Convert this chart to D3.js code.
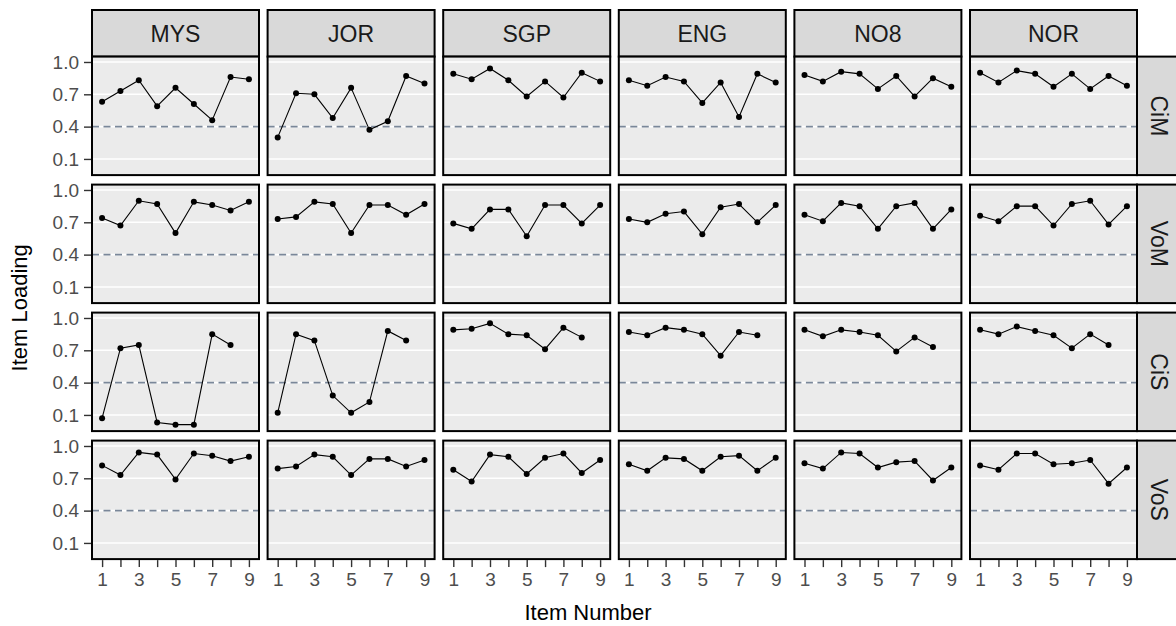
<!DOCTYPE html>
<html>
<head>
<meta charset="utf-8">
<script src="https://cdn.jsdelivr.net/npm/d3@7"></script>
<style>
  html, body { margin: 0; padding: 0; background: #ffffff; }
  svg { display: block; font-family: "Liberation Sans", Arial, Helvetica, sans-serif; }
</style>
</head>
<body>
<svg id="chart" width="1176" height="626"></svg>
<script>
// Facet columns (countries) and facet rows (constructs)
const countries = ["MYS", "JOR", "SGP", "ENG", "NO8", "NOR"];
const constructs = ["CiM", "VoM", "CiS", "VoS"];

// Axis ticks
const xTicks = [1, 2, 3, 4, 5, 6, 7, 8, 9];
const xTickLabels = ["1", "", "3", "", "5", "", "7", "", "9"];
const yTicks = [0.1, 0.4, 0.7, 1.0];
const yTickLabels = ["0.1", "0.4", "0.7", "1.0"];
const cutoff = 0.4;

// Item loadings, one array per country (same order as `countries`)
const loadingsCiM = [
  [0.63, 0.73, 0.83, 0.59, 0.76, 0.61, 0.46, 0.86, 0.84],
  [0.30, 0.71, 0.70, 0.48, 0.76, 0.37, 0.45, 0.87, 0.80],
  [0.89, 0.84, 0.94, 0.83, 0.68, 0.82, 0.67, 0.90, 0.82],
  [0.83, 0.78, 0.86, 0.82, 0.62, 0.81, 0.49, 0.89, 0.81],
  [0.88, 0.82, 0.91, 0.89, 0.75, 0.87, 0.68, 0.85, 0.77],
  [0.90, 0.81, 0.92, 0.89, 0.77, 0.89, 0.75, 0.87, 0.78]
];
const loadingsVoM = [
  [0.74, 0.67, 0.90, 0.87, 0.60, 0.89, 0.86, 0.81, 0.89],
  [0.73, 0.75, 0.89, 0.87, 0.60, 0.86, 0.86, 0.77, 0.87],
  [0.69, 0.64, 0.82, 0.82, 0.57, 0.86, 0.86, 0.69, 0.86],
  [0.73, 0.70, 0.78, 0.80, 0.59, 0.84, 0.87, 0.70, 0.86],
  [0.77, 0.71, 0.88, 0.85, 0.64, 0.85, 0.88, 0.64, 0.82],
  [0.76, 0.71, 0.85, 0.85, 0.67, 0.87, 0.90, 0.68, 0.85]
];
const loadingsCiS = [
  [0.07, 0.72, 0.75, 0.03, 0.01, 0.01, 0.85, 0.75],
  [0.12, 0.85, 0.79, 0.28, 0.12, 0.22, 0.88, 0.79],
  [0.89, 0.90, 0.95, 0.85, 0.84, 0.71, 0.91, 0.82],
  [0.87, 0.84, 0.91, 0.89, 0.85, 0.65, 0.87, 0.84],
  [0.89, 0.83, 0.89, 0.87, 0.84, 0.69, 0.82, 0.73],
  [0.89, 0.85, 0.92, 0.88, 0.84, 0.72, 0.85, 0.75]
];
const loadingsVoS = [
  [0.82, 0.73, 0.94, 0.92, 0.69, 0.93, 0.91, 0.86, 0.90],
  [0.79, 0.81, 0.92, 0.90, 0.73, 0.88, 0.88, 0.81, 0.87],
  [0.78, 0.67, 0.92, 0.90, 0.74, 0.89, 0.93, 0.75, 0.87],
  [0.83, 0.77, 0.89, 0.88, 0.77, 0.90, 0.91, 0.77, 0.89],
  [0.84, 0.79, 0.94, 0.93, 0.80, 0.85, 0.86, 0.68, 0.80],
  [0.82, 0.78, 0.93, 0.93, 0.83, 0.84, 0.87, 0.65, 0.80]
];
const loadingsByConstruct = [loadingsCiM, loadingsVoM, loadingsCiS, loadingsVoS];

// Layout
const panelLeft = 92, panelW = 167, stepX = 175.6;
const panelTop = 56.6, panelH = 118.5, stepY = 128;
const stripTop = 10;
const stripW = 44;

const svg = d3.select("#chart");

const x = d3.scaleLinear().domain([0.45, 9.55]).range([0, panelW]);
const y = d3.scaleLinear().domain([-0.05, 1.05]).range([panelH, 0]);

const line = d3.line().x((d, i) => x(i + 1)).y(d => y(d));

// Column strips
countries.forEach((c, ci) => {
  const gx = panelLeft + ci * stepX;
  const g = svg.append("g").attr("transform", `translate(${gx},${stripTop})`);
  g.append("rect")
    .attr("width", panelW).attr("height", panelTop - stripTop)
    .attr("fill", "#d9d9d9").attr("stroke", "#000").attr("stroke-width", 2);
  g.append("text")
    .attr("x", panelW / 2).attr("y", (panelTop - stripTop) / 2)
    .attr("dy", "0.36em").attr("text-anchor", "middle")
    .attr("font-size", 23).attr("fill", "#1a1a1a").text(c);
});

// Row strips
const rightEdge = panelLeft + (countries.length - 1) * stepX + panelW;
constructs.forEach((k, ri) => {
  const gy = panelTop + ri * stepY;
  const g = svg.append("g").attr("transform", `translate(${rightEdge},${gy})`);
  g.append("rect")
    .attr("width", stripW).attr("height", panelH)
    .attr("fill", "#d9d9d9").attr("stroke", "#000").attr("stroke-width", 2);
  g.append("text")
    .attr("transform", `translate(${stripW / 2},${panelH / 2}) rotate(90)`)
    .attr("dy", "0.36em").attr("text-anchor", "middle")
    .attr("font-size", 23).attr("fill", "#1a1a1a").text(k);
});

// Panels
constructs.forEach((k, ri) => {
  countries.forEach((c, ci) => {
    const gx = panelLeft + ci * stepX;
    const gy = panelTop + ri * stepY;
    const g = svg.append("g").attr("transform", `translate(${gx},${gy})`);

    g.append("rect").attr("width", panelW).attr("height", panelH).attr("fill", "#ebebeb");

    g.selectAll("line.grid").data(yTicks).join("line")
      .attr("class", "grid")
      .attr("x1", 0).attr("x2", panelW)
      .attr("y1", d => y(d)).attr("y2", d => y(d))
      .attr("stroke", "#ffffff").attr("stroke-width", 1.6);

    g.append("line")
      .attr("x1", 0).attr("x2", panelW)
      .attr("y1", y(cutoff)).attr("y2", y(cutoff))
      .attr("stroke", "#7a8799").attr("stroke-width", 1.6)
      .attr("stroke-dasharray", "7,4.5");

    const vals = loadingsByConstruct[ri][ci];
    g.append("path").datum(vals)
      .attr("d", line).attr("fill", "none")
      .attr("stroke", "#000").attr("stroke-width", 1.1);

    g.selectAll("circle").data(vals).join("circle")
      .attr("cx", (d, i) => x(i + 1)).attr("cy", d => y(d))
      .attr("r", 3).attr("fill", "#000");

    g.append("rect").attr("width", panelW).attr("height", panelH)
      .attr("fill", "none").attr("stroke", "#000").attr("stroke-width", 2);

    // Left axis on the first column
    if (ci === 0) {
      const ax = g.append("g").call(
        d3.axisLeft(y).tickValues(yTicks).tickSize(7).tickPadding(5)
          .tickFormat((d, i) => yTickLabels[i]));
      ax.select(".domain").remove();
      ax.selectAll(".tick line").attr("stroke", "#333").attr("stroke-width", 1.4)
        .attr("transform", "translate(-1,0)");
      ax.selectAll(".tick text").attr("font-size", 19).attr("fill", "#4d4d4d")
        .attr("font-family", "Liberation Sans, Arial, sans-serif")
        .attr("dx", "-1");
    }
    // Bottom axis on the last row
    if (ri === constructs.length - 1) {
      const ax = g.append("g").attr("transform", `translate(0,${panelH})`).call(
        d3.axisBottom(x).tickValues(xTicks).tickSize(7).tickPadding(6)
          .tickFormat((d, i) => xTickLabels[i]));
      ax.select(".domain").remove();
      ax.selectAll(".tick line").attr("stroke", "#333").attr("stroke-width", 1.4)
        .attr("transform", "translate(0,1)");
      ax.selectAll(".tick text").attr("font-size", 19).attr("fill", "#4d4d4d")
        .attr("font-family", "Liberation Sans, Arial, sans-serif");
    }
  });
});

// Axis titles
svg.append("text")
  .attr("x", 588).attr("y", 620)
  .attr("text-anchor", "middle").attr("font-size", 22).attr("fill", "#000")
  .text("Item Number");

svg.append("text")
  .attr("transform", `translate(27,${panelTop + (3 * stepY + panelH) / 2}) rotate(-90)`)
  .attr("text-anchor", "middle").attr("font-size", 22).attr("fill", "#000")
  .text("Item Loading");
</script>
</body>
</html>
